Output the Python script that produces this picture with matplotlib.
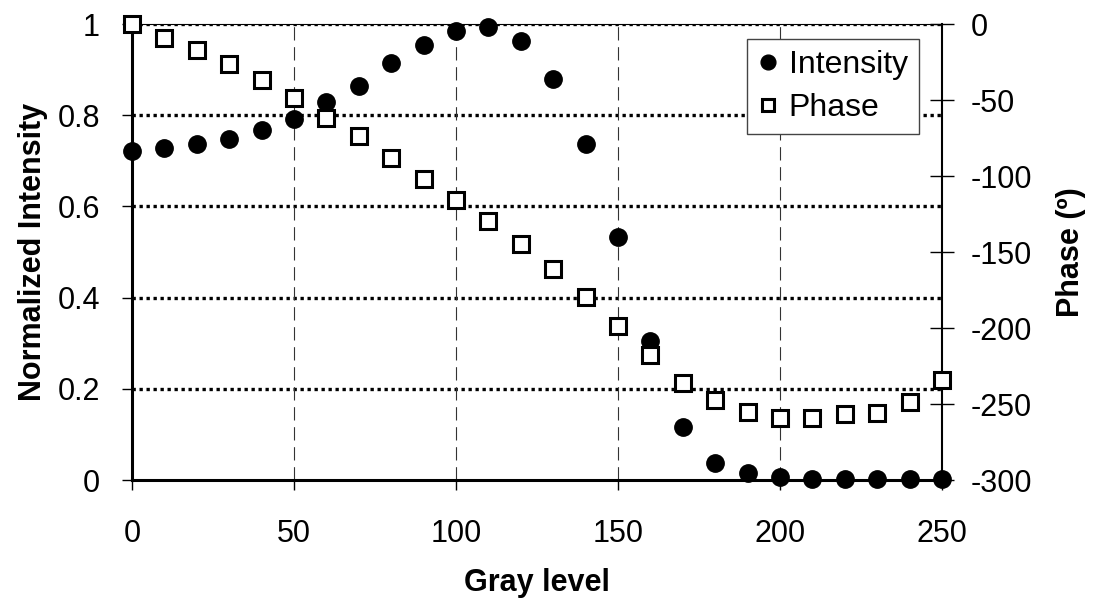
import matplotlib
matplotlib.use("Agg")
import matplotlib.pyplot as plt

plt.rcParams['font.family'] = ['Liberation Sans', 'DejaVu Sans']
plt.rcParams['axes.unicode_minus'] = False

# data
gray = [0, 10, 20, 30, 40, 50, 60, 70, 80, 90, 100, 110, 120, 130, 140, 150,
        160, 170, 180, 190, 200, 210, 220, 230, 240, 250]
intensity = [0.721, 0.729, 0.737, 0.748, 0.768, 0.792, 0.828, 0.865, 0.915,
             0.954, 0.985, 0.993, 0.962, 0.879, 0.737, 0.532, 0.305, 0.117,
             0.037, 0.016, 0.007, 0.002, 0.002, 0.002, 0.002, 0.002]
phase = [0, -9, -17.3, -26.5, -36.8, -48.5, -61.6, -73.7, -88.2, -102.2,
         -115.8, -129.6, -144.9, -161, -179.8, -198.7, -217.8, -236, -247.4,
         -255.5, -259.4, -259, -256.8, -255.7, -248.7, -234.5]

x_ticks = [0, 50, 100, 150, 200, 250]
left_ticks = [0, 0.2, 0.4, 0.6, 0.8, 1]
left_labels = ['0', '0.2', '0.4', '0.6', '0.8', '1']
right_ticks = [0, -50, -100, -150, -200, -250, -300]

FS = 22

fig = plt.figure(figsize=(10.95, 6.04), dpi=100)
ax = fig.add_axes([132/1095, 1 - 480/604, 810/1095, 456/604])
ax2 = ax.twinx()

# grid lines
for v in left_ticks[1:]:
    ax.axhline(v, color='black', lw=2.4, linestyle=(0, (1, 1.1)), zorder=1)
for v in x_ticks[1:-1]:
    ax.axvline(v, color='#333333', lw=0.8, linestyle=(0, (12, 6)), zorder=1)

h1, = ax.plot(gray, intensity, 'o', color='black', markersize=12.5,
              clip_on=False, zorder=3, label='Intensity')
h2, = ax2.plot(gray, phase, 's', markerfacecolor='white',
               markeredgecolor='black', markeredgewidth=2.2, markersize=11,
               clip_on=False, zorder=3, label='Phase')

ax.set_xlim(0, 250)
ax.set_ylim(0, 1)
ax2.set_ylim(-300, 0)
ax.set_xticks(x_ticks)
ax.set_yticks(left_ticks)
ax.set_yticklabels(left_labels)
ax2.set_yticks(right_ticks)

ax.spines['left'].set_linewidth(2.2)
ax.spines['bottom'].set_linewidth(2.2)
ax.spines['top'].set_linewidth(0.8)
ax.spines['right'].set_visible(False)
for s in ['left', 'top', 'bottom']:
    ax2.spines[s].set_visible(False)
ax2.spines['right'].set_linewidth(1.5)

ax.tick_params(axis='y', direction='out', length=7, width=1, pad=16,
               labelsize=FS)
ax.tick_params(axis='x', direction='out', length=7, width=1, pad=21,
               labelsize=FS)
ax2.tick_params(axis='y', direction='inout', length=17, width=1, pad=12,
                labelsize=FS)

ax.set_xlabel('Gray level', fontsize=FS, fontweight='bold')
ax.xaxis.set_label_coords(0.5, (480 - 583) / 456)
ax.xaxis.label.set_va('center')
ax.set_ylabel('Normalized Intensity', fontsize=FS, fontweight='bold',
              va='center')
ax.yaxis.set_label_coords((33 - 132) / 810, 0.5)
ax2.set_ylabel('Phase (º)', fontsize=FS, fontweight='bold', va='center')
ax2.yaxis.set_label_coords((1071 - 132) / 810, 0.5)

leg = ax2.legend(handles=[h1, h2], loc='upper right',
                 bbox_to_anchor=((919 - 132) / 810, (480 - 39) / 456),
                 borderaxespad=0, fontsize=FS + 1, markerscale=0.85,
                 handlelength=0.6, handletextpad=0.35, labelspacing=0.4,
                 borderpad=0.35, fancybox=False, framealpha=1)
leg.get_frame().set_edgecolor('#444444')
leg.get_frame().set_linewidth(1)

fig.savefig('out.png', dpi=100)
